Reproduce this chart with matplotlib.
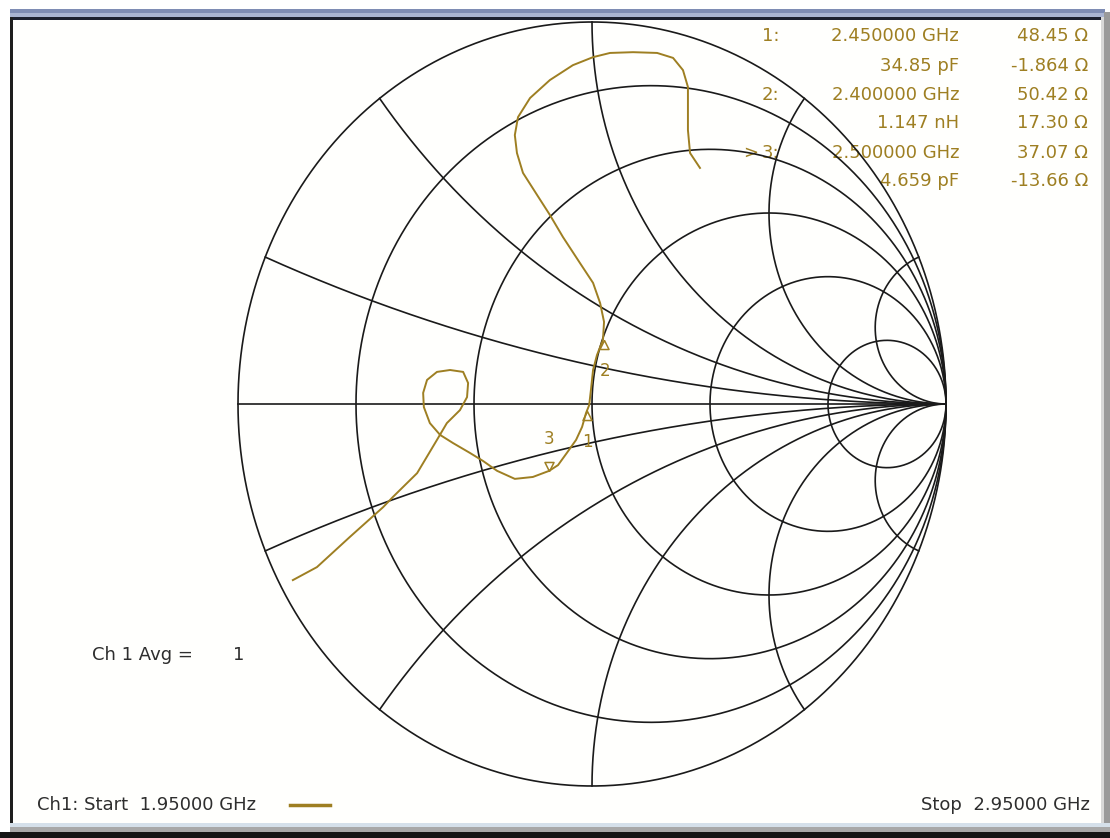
import matplotlib
matplotlib.use("Agg")
import matplotlib.pyplot as plt
from matplotlib.patches import Rectangle
import numpy as np

# Trace (reflection coefficient), 1.95 GHz -> 2.95 GHz
trace_re = [0.305, 0.277, 0.271, 0.271, 0.257, 0.229, 0.184, 0.116, 0.051, 0.003,
            -0.054, -0.119, -0.175, -0.209, -0.218, -0.212, -0.195, -0.155, -0.119, -0.082,
            -0.034, 0.003, 0.023, 0.034, 0.031, 0.014, 0.003, -0.003, -0.008, -0.017,
            -0.028, -0.045, -0.071, -0.096, -0.121, -0.167, -0.218, -0.268, -0.308, -0.345,
            -0.393, -0.429, -0.458, -0.475, -0.477, -0.466, -0.438, -0.401, -0.364, -0.350,
            -0.353, -0.373, -0.410, -0.438, -0.494, -0.562, -0.590, -0.684, -0.777, -0.845]
trace_im = [0.618, 0.657, 0.717, 0.830, 0.874, 0.906, 0.919, 0.921, 0.919, 0.908,
            0.887, 0.848, 0.801, 0.751, 0.704, 0.657, 0.605, 0.547, 0.495, 0.437,
            0.369, 0.317, 0.264, 0.215, 0.168, 0.128, 0.089, 0.037, -0.003, -0.024,
            -0.060, -0.094, -0.128, -0.160, -0.175, -0.191, -0.196, -0.175, -0.149, -0.128,
            -0.102, -0.081, -0.050, -0.008, 0.029, 0.063, 0.084, 0.089, 0.084, 0.055,
            0.018, -0.016, -0.050, -0.094, -0.181, -0.243, -0.270, -0.348, -0.427, -0.461]

# Markers
marker_ids = ["1", "2", "3"]
marker_freq = ["2.450000 GHz", "2.400000 GHz", "2.500000 GHz"]
marker_equiv = ["34.85 pF", "1.147 nH", "4.659 pF"]
marker_R = [48.45, 50.42, 37.07]
marker_X = [-1.864, 17.30, -13.66]
Z0 = 50.0

r_circles = [0, 0.2, 0.5, 1, 2, 5]
x_circles = [0.2, 0.5, 1, 2, 5]

GOLD = "#9e7f22"
GRID = "#1a1a1a"
TXT = "#2e2e2e"

fig = plt.figure(figsize=(11.1, 8.38), dpi=100)
fig.patch.set_facecolor("white")

# window frame (pixel coordinates)
bg = fig.add_axes([0, 0, 1, 1])
bg.set_xlim(0, 1110)
bg.set_ylim(838, 0)
bg.axis("off")
bg.add_patch(Rectangle((10, 18), 1092, 806, facecolor="#fffffd", edgecolor="none"))
bg.add_patch(Rectangle((10, 9), 1095, 5, facecolor="#7e8cb4", edgecolor="none"))
bg.add_patch(Rectangle((10, 13), 1095, 4, facecolor="#a9b4d2", edgecolor="none"))
bg.add_patch(Rectangle((10, 17), 1095, 3, facecolor="#1c2030", edgecolor="none"))
bg.add_patch(Rectangle((10, 17), 3, 808, facecolor="#1e1e1e", edgecolor="none"))
bg.add_patch(Rectangle((1101, 17), 3, 808, facecolor="#d8d8d8", edgecolor="none"))
bg.add_patch(Rectangle((1104, 12), 6, 826, facecolor="#9a9a9a", edgecolor="none"))
bg.add_patch(Rectangle((10, 823), 1100, 4, facecolor="#d5e0ea", edgecolor="none"))
bg.add_patch(Rectangle((10, 827), 1100, 5, facecolor="#a8a8a8", edgecolor="none"))
bg.add_patch(Rectangle((0, 832), 1110, 6, facecolor="#151515", edgecolor="none"))

# Smith chart axes
ax = fig.add_axes([238 / 1110, (838 - 786) / 838, 708 / 1110, 764 / 838])
ax.set_xlim(-1, 1)
ax.set_ylim(-1, 1)
ax.axis("off")
ax.patch.set_visible(False)

t = np.tan(np.linspace(-np.pi / 2 + 1e-4, np.pi / 2 - 1e-4, 1500))
for r in r_circles:
    z = r + 1j * t
    g = (z - 1) / (z + 1)
    ax.plot(g.real, g.imag, color=GRID, lw=1.2, clip_on=False)
rr = np.tan(np.linspace(0, np.pi / 2 - 1e-4, 1500))
for x in x_circles:
    for s in (1, -1):
        z = rr + 1j * s * x
        g = (z - 1) / (z + 1)
        ax.plot(g.real, g.imag, color=GRID, lw=1.2, clip_on=False)
ax.plot([-1, 1], [0, 0], color=GRID, lw=1.2, clip_on=False)

ax.plot(trace_re, trace_im, color=GOLD, lw=1.4, clip_on=False)

# marker symbols
tri_up = [(0, 0), (-0.5, -1), (0.5, -1), (0, 0)]
tri_dn = [(0, 0), (-0.5, 1), (0.5, 1), (0, 0)]
for i, mid in enumerate(marker_ids):
    z = (marker_R[i] + 1j * marker_X[i]) / Z0
    g = (z - 1) / (z + 1)
    if mid == "3":
        ax.plot(g.real, g.imag, marker=tri_dn, ms=13, mfc="none", mec=GOLD, mew=1.1)
        ax.annotate(mid, (g.real, g.imag), xytext=(0, 32), textcoords="offset pixels",
                    ha="center", va="center", color=GOLD, fontsize=12)
    else:
        ax.plot(g.real, g.imag, marker=tri_up, ms=13, mfc="none", mec=GOLD, mew=1.1)
        ax.annotate(mid, (g.real, g.imag), xytext=(1, -31), textcoords="offset pixels",
                    ha="center", va="center", color=GOLD, fontsize=12)

# marker readout
fs = 13
row_y = [36, 66, 95, 123, 153, 181]
for i, mid in enumerate(marker_ids):
    y1, y2 = row_y[2 * i], row_y[2 * i + 1]
    bg.text(762, y1, mid + ":", ha="left", va="center", color=GOLD, fontsize=fs)
    bg.text(959, y1, marker_freq[i], ha="right", va="center", color=GOLD, fontsize=fs)
    bg.text(959, y2, marker_equiv[i], ha="right", va="center", color=GOLD, fontsize=fs)
    bg.text(1088, y1, f"{marker_R[i]:.2f} \u03a9", ha="right", va="center", color=GOLD, fontsize=fs)
    xs = f"{marker_X[i]:.4g}" if abs(marker_X[i]) < 10 else f"{marker_X[i]:.2f}"
    bg.text(1088, y2, f"{xs} \u03a9", ha="right", va="center", color=GOLD, fontsize=fs)
bg.text(743, row_y[4], ">", ha="left", va="center", color=GOLD, fontsize=fs)

bg.text(92, 655, "Ch 1 Avg =", ha="left", va="center", color=TXT, fontsize=fs)
bg.text(233, 655, "1", ha="left", va="center", color=TXT, fontsize=fs)
bg.text(37, 805, "Ch1: Start  1.95000 GHz", ha="left", va="center", color=TXT, fontsize=fs)
bg.plot([290, 330], [805, 805], color=GOLD, lw=2.5)
bg.text(1090, 805, "Stop  2.95000 GHz", ha="right", va="center", color=TXT, fontsize=fs)

fig.savefig("out.png", dpi=100)
plt.close(fig)
